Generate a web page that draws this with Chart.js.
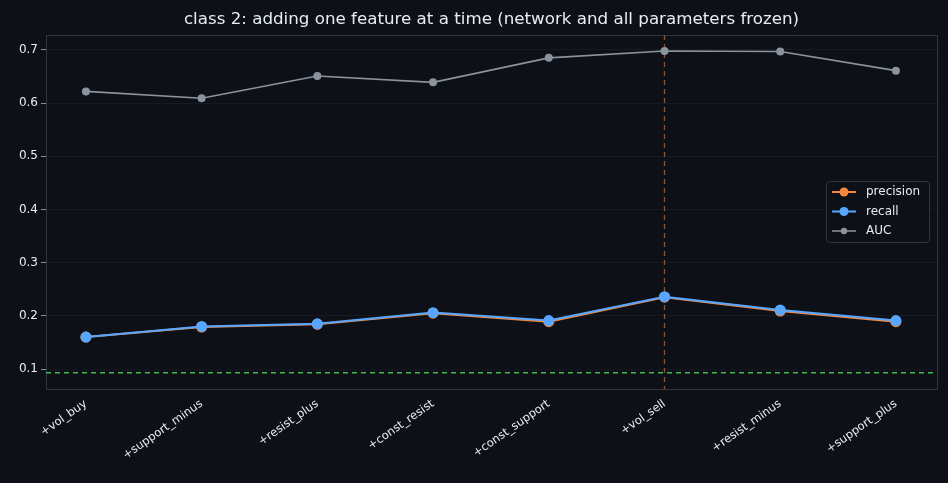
<!DOCTYPE html>
<html><head><meta charset="utf-8">
<script src="https://cdn.jsdelivr.net/npm/chart.js@4/dist/chart.umd.min.js"></script>
<style>html,body{margin:0;background:#0d1117;}#w{width:948px;height:483px;}</style>
</head><body><div id="w"><canvas id="c"></canvas></div>
<script>
const categories=["+vol_buy","+support_minus","+resist_plus","+const_resist","+const_support","+vol_sell","+resist_minus","+support_plus"];
const precision=[0.160,0.179,0.184,0.205,0.189,0.235,0.209,0.189];
const recall=[0.160,0.180,0.185,0.206,0.191,0.236,0.211,0.191];
const auc=[0.622,0.609,0.651,0.639,0.685,0.698,0.697,0.661];
const baseline=0.093;
const markIndex=5;
const titleText='class 2: adding one feature at a time (network and all parameters frozen)';
const toPts=a=>a.map((v,i)=>({x:i,y:v}));
const refLines={id:'ref',beforeDatasetsDraw(ch){const{ctx,chartArea:a,scales:{x,y}}=ch;ctx.save();
ctx.strokeStyle='#30363d';ctx.lineWidth=1;ctx.strokeRect(a.left+0.5,a.top+0.5,a.right-a.left,a.bottom-a.top);
ctx.setLineDash([5,4]);ctx.lineWidth=1.3;
ctx.strokeStyle='#3fb950';const yy=y.getPixelForValue(baseline);ctx.beginPath();ctx.moveTo(a.left,yy);ctx.lineTo(a.right,yy);ctx.stroke();
ctx.strokeStyle='#8f5236';const xx=x.getPixelForValue(markIndex);ctx.beginPath();ctx.moveTo(xx,a.top);ctx.lineTo(xx,a.bottom);ctx.stroke();ctx.restore();}};
const titleP={id:'tp',afterDraw(ch){const{ctx,chartArea:a}=ch;ctx.save();ctx.fillStyle='#e6edf3';ctx.font='16.7px "DejaVu Sans"';ctx.textAlign='center';ctx.textBaseline='middle';
ctx.fillText(titleText,(a.left+a.right)/2,20);ctx.restore();}};
const legendBox={id:'lb',afterDraw(ch){const{ctx,chartArea:a}=ch;const items=[["precision","#f0883e",1],["recall","#58a6ff",1],["AUC","#8b949e",0]];
const bx=a.right-111,by=181,bw=103,bh=61;ctx.save();ctx.fillStyle='rgba(13,17,23,0.9)';ctx.strokeStyle='#30363d';ctx.lineWidth=1;
ctx.beginPath();ctx.roundRect(bx+0.5,by+0.5,bw,bh,3);ctx.fill();ctx.stroke();ctx.font='12px "DejaVu Sans"';ctx.textBaseline='middle';
items.forEach((it,i)=>{const yy=by+11+i*19.5;ctx.strokeStyle=it[1];ctx.lineWidth=it[2]?2:1.5;ctx.beginPath();ctx.moveTo(bx+6,yy);ctx.lineTo(bx+30,yy);ctx.stroke();
ctx.fillStyle=it[1];ctx.beginPath();ctx.arc(bx+18,yy,it[2]?4.5:3.2,0,7);ctx.fill();ctx.fillStyle='#e6edf3';ctx.fillText(it[0],bx+40,yy);});ctx.restore();}};
Chart.defaults.font.family='"DejaVu Sans"';
new Chart(document.getElementById('c'),{type:'line',
data:{datasets:[
{label:'AUC',data:toPts(auc),borderColor:'#8b949e',backgroundColor:'#8b949e',borderWidth:1.6,pointRadius:3.2,pointHoverRadius:3.2,order:3},
{label:'precision',data:toPts(precision),borderColor:'#f0883e',backgroundColor:'#f0883e',borderWidth:2,pointRadius:4.5,order:2},
{label:'recall',data:toPts(recall),borderColor:'#58a6ff',backgroundColor:'#58a6ff',borderWidth:2,pointRadius:4.5,order:1}]},
options:{responsive:true,maintainAspectRatio:false,animation:false,
layout:{padding:{left:0,right:11,top:35,bottom:0}},
plugins:{legend:{display:false},tooltip:{enabled:false},title:{display:false}},
scales:{x:{type:'linear',min:-0.345,max:7.355,afterBuildTicks(s){s.ticks=categories.map((_,i)=>({value:i}));},
afterFit(s){s.height=94;},
ticks:{color:'#e6edf3',font:{size:11.5},maxRotation:35,minRotation:35,autoSkip:false,callback:(v)=>categories[v]},
grid:{display:false,drawTicks:true,tickLength:5,tickColor:'#8b949e'},border:{color:'#30363d'}},
y:{min:0.0624,max:0.728,afterBuildTicks(s){s.ticks=[0.1,0.2,0.3,0.4,0.5,0.6,0.7].map(v=>({value:v}));},
afterFit(s){s.width=46;},
ticks:{color:'#e6edf3',font:{size:12},callback:v=>v.toFixed(1)},
grid:{color:'#161b22',tickColor:'#8b949e',tickLength:5},border:{color:'#30363d'}}}},
plugins:[refLines,legendBox,titleP]});
</script></body></html>
